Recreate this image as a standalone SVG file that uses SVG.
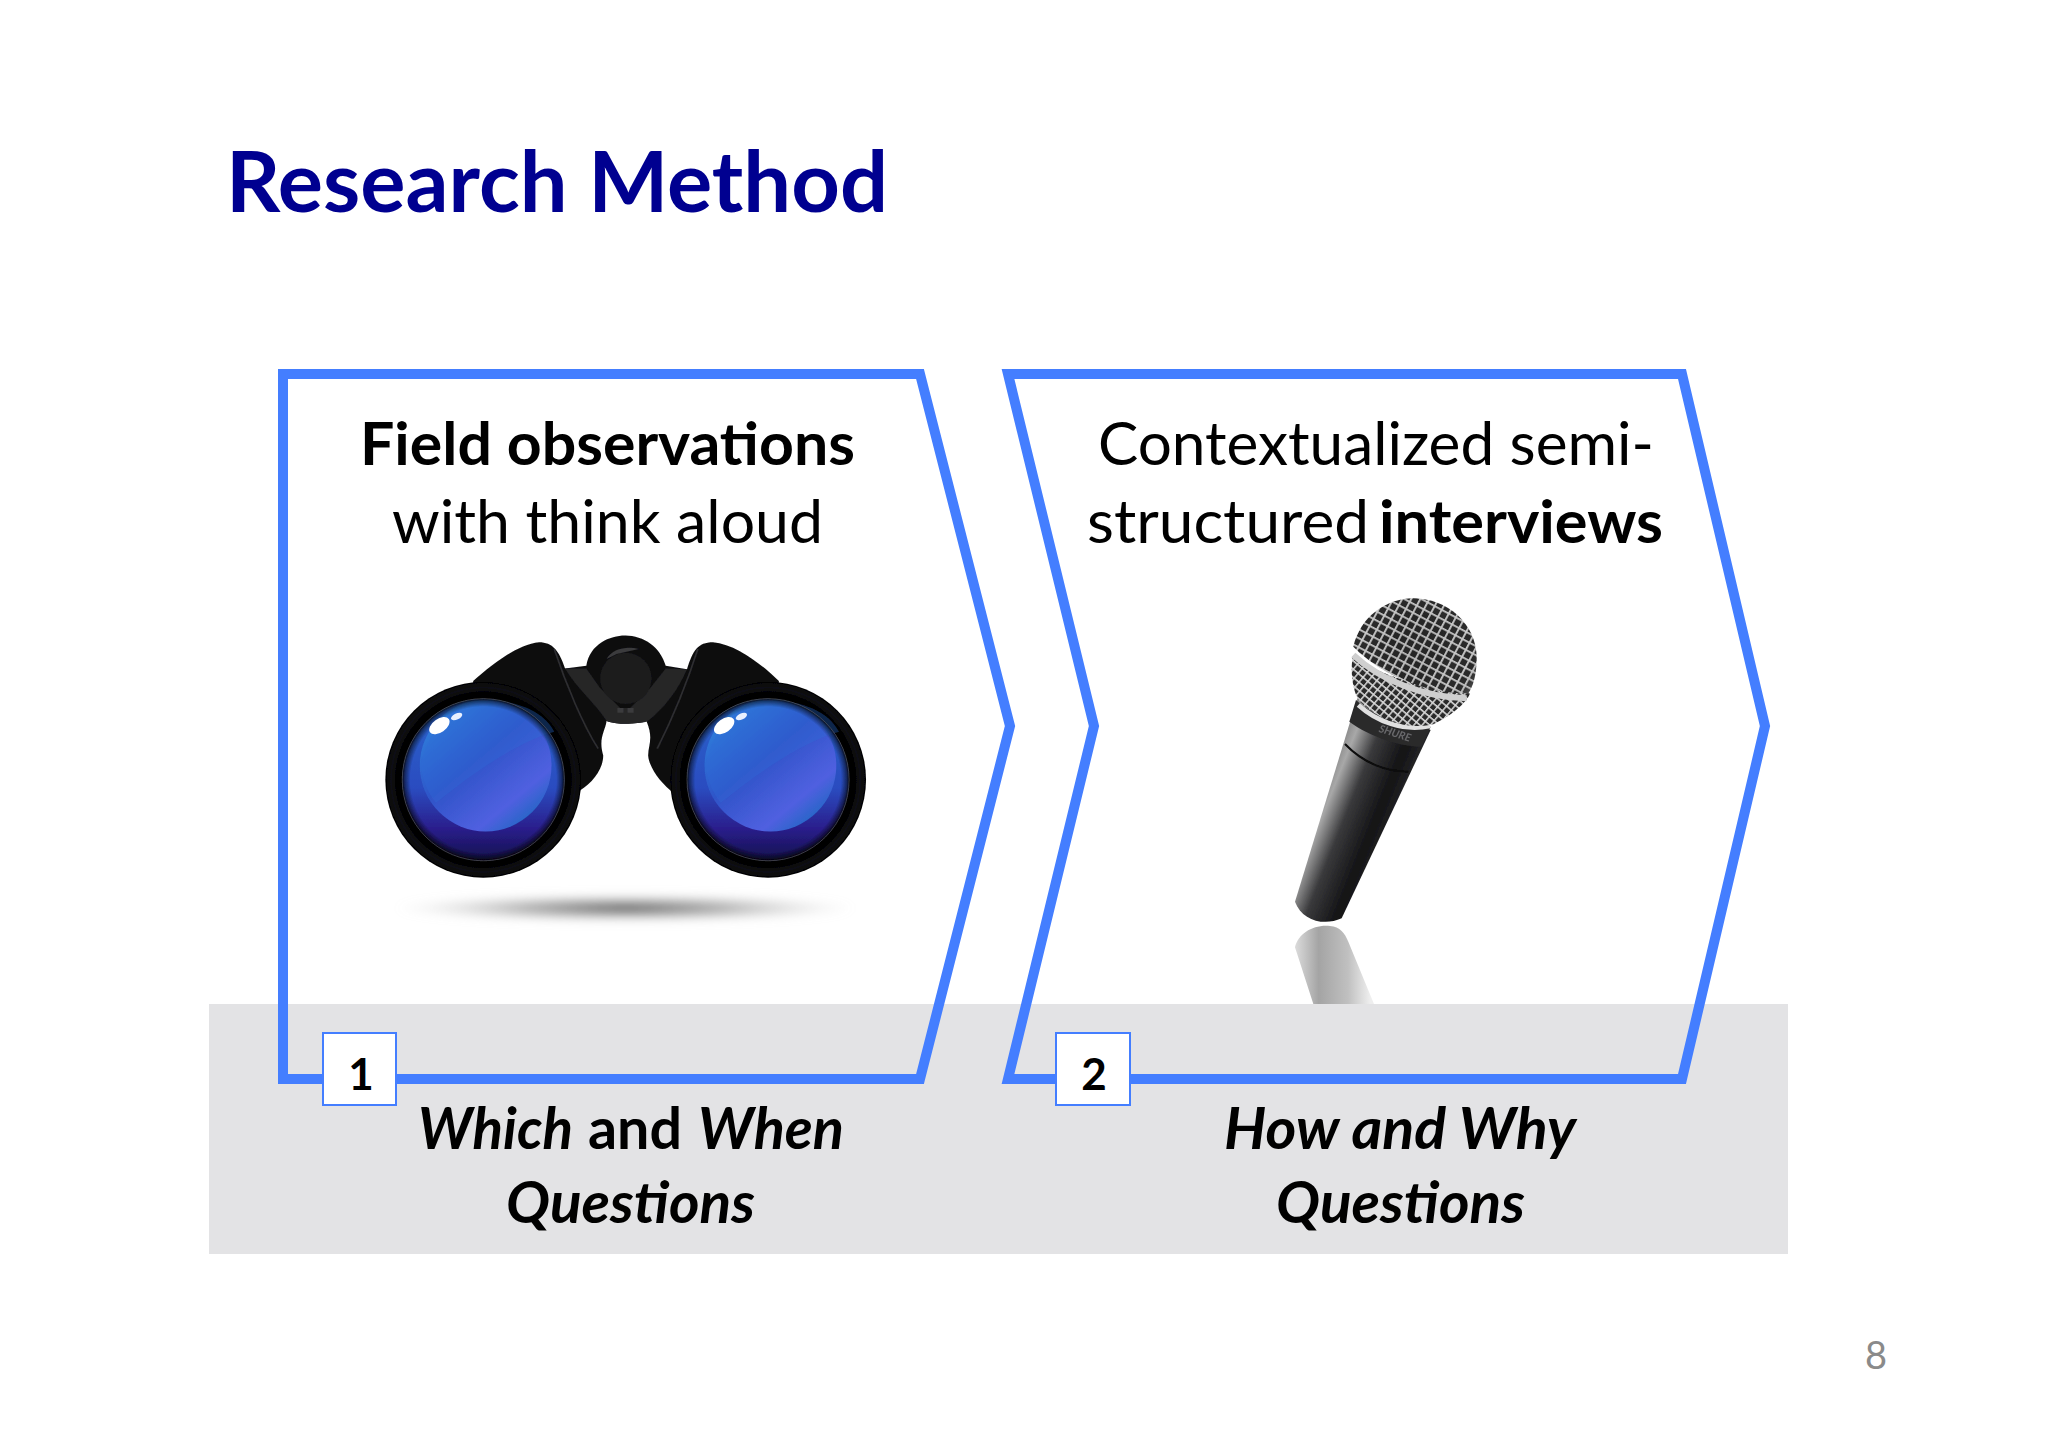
<svg xmlns="http://www.w3.org/2000/svg" width="2048" height="1447" viewBox="0 0 2048 1447">
<style>
text{font-family:"Lato","Carlito","Liberation Sans",sans-serif;fill:#000}
.b{font-weight:700}.i{font-style:italic}
.h{font-size:60px}.q{font-size:58px}
.chev{fill:none;stroke:#447eff;stroke-width:10;stroke-miterlimit:10}
.tag{fill:#fff;stroke:#447eff;stroke-width:2}
</style>
<defs>
<filter id="soft" x="-5%" y="-5%" width="110%" height="110%"><feGaussianBlur stdDeviation="1.2"/></filter>
<filter id="blur" x="-20%" y="-100%" width="140%" height="300%"><feGaussianBlur stdDeviation="14"/></filter>
<linearGradient id="glass" x1="0" y1="0" x2="0" y2="1"><stop offset="0" stop-color="#2a66cc"/><stop offset=".55" stop-color="#2a4cc0"/><stop offset=".8" stop-color="#2a1e8c"/><stop offset="1" stop-color="#14104e"/></linearGradient>
<radialGradient id="vig" cx="50%" cy="50%" r="50%"><stop offset=".9" stop-color="#000" stop-opacity="0"/><stop offset=".97" stop-color="#000" stop-opacity=".5"/><stop offset="1" stop-color="#000" stop-opacity=".9"/></radialGradient>
<linearGradient id="inner" x1=".1" y1=".05" x2=".85" y2=".95"><stop offset="0" stop-color="#2f84de"/><stop offset=".45" stop-color="#2f54c8"/><stop offset=".8" stop-color="#5060e0"/><stop offset="1" stop-color="#1b68c0"/></linearGradient>
<radialGradient id="rim" cx="50%" cy="50%" r="50%"><stop offset=".78" stop-color="#000"/><stop offset=".88" stop-color="#000"/><stop offset=".94" stop-color="#111114"/><stop offset="1" stop-color="#030303"/></radialGradient>
<radialGradient id="shadow" cx="50%" cy="50%" r="50%"><stop offset="0" stop-color="#555" stop-opacity=".95"/><stop offset=".45" stop-color="#888" stop-opacity=".65"/><stop offset="1" stop-color="#ccc" stop-opacity="0"/></radialGradient>
<linearGradient id="handle" gradientUnits="userSpaceOnUse" x1="140" y1="590" x2="390" y2="690"><stop offset="0" stop-color="#777"/><stop offset=".18" stop-color="#a8a8a8"/><stop offset=".42" stop-color="#3a3a3c"/><stop offset=".75" stop-color="#131315"/><stop offset="1" stop-color="#2a2a2c"/></linearGradient>
<linearGradient id="refl" gradientUnits="userSpaceOnUse" x1="80" y1="1130" x2="300" y2="1130"><stop offset="0" stop-color="#d8d8d8"/><stop offset=".3" stop-color="#a4a4a4"/><stop offset=".7" stop-color="#c0c0c0"/><stop offset="1" stop-color="#eee"/></linearGradient>
<pattern id="mesh" patternUnits="userSpaceOnUse" width="24" height="24" patternTransform="rotate(28)"><rect width="24" height="24" fill="#2a2a2a"/><path d="M0 0H24M0 0V24" stroke="#cdcdcd" stroke-width="11" fill="none"/></pattern>
<pattern id="meshFine" patternUnits="userSpaceOnUse" width="19" height="19" patternTransform="rotate(40)"><rect width="19" height="19" fill="#2a2a2a"/><path d="M0 0H19M0 0V19" stroke="#d8d8d8" stroke-width="9" fill="none"/></pattern>
<radialGradient id="headShade" gradientUnits="userSpaceOnUse" cx="430" cy="170" r="230"><stop offset="0" stop-color="#000" stop-opacity=".1"/><stop offset=".75" stop-color="#000" stop-opacity="0"/><stop offset="1" stop-color="#fff" stop-opacity=".3"/></radialGradient>
<g id="lens">
<circle cx="365" cy="532" r="290" fill="url(#rim)"/>
<circle cx="365" cy="532" r="240" fill="url(#glass)"/>
<circle cx="372" cy="490" r="195" fill="url(#inner)" filter="url(#soft)"/>
<path d="M225 600 C350 500 470 420 575 390 C545 330 470 300 370 295 C280 300 200 380 180 490 C185 530 200 570 225 600Z" fill="#2f6ad8" opacity=".35"/>
<circle cx="365" cy="532" r="240" fill="url(#vig)"/>
<circle cx="365" cy="532" r="240" fill="none" stroke="#55565e" stroke-width="2"/>
<ellipse cx="235" cy="372" rx="34" ry="20" transform="rotate(-35 235 372)" fill="#fff"/>
<ellipse cx="286" cy="345" rx="18" ry="9" transform="rotate(-25 286 345)" fill="#e8f0ff"/>
</g>
</defs>
<rect width="2048" height="1447" fill="#fff"/>
<rect id="band" x="209" y="1004" width="1579" height="250" fill="#e3e3e5"/>

<g id="title"><text class="b" x="226" y="212" font-size="84" style="fill:#000090" textLength="662" lengthAdjust="spacingAndGlyphs">Research Method</text></g>

<g id="binoculars" transform="translate(360 600) scale(.3378)">
<ellipse cx="785" cy="912" rx="680" ry="42" fill="url(#shadow)" filter="url(#blur)"/>
<g filter="url(#soft)">
<path d="M335 240 C390 190 470 130 530 125 C570 125 590 150 607 203 L670 195 C680 130 740 105 785 105 C840 105 890 140 905 195 L968 205 C985 150 1000 125 1045 125 C1110 130 1190 190 1240 240 L1240 400 L920 565 C880 530 855 490 853 460 C853 430 870 410 848 358 C820 368 760 370 730 358 C725 390 705 410 720 460 C720 500 690 540 650 565 L335 400Z" fill="#0e0e10"/>
<path d="M607 203 L670 203 L710 260 L770 320 L800 320 L860 260 L905 203 L968 205 C940 270 900 320 850 360 C820 368 760 370 730 358 C700 310 640 260 607 203Z" fill="#252527"/>
<circle cx="787" cy="232" r="76" fill="#1b1b1d"/>
<path d="M762 320 h18 v14 h-18Z M792 320 h18 v14 h-18Z" fill="#3a3a3c"/>
<path d="M730 175 C745 145 790 135 825 145 L760 160Z" fill="#3a3a3c"/>
<path d="M575 145 C610 250 660 370 705 440" fill="none" stroke="#2e2e30" stroke-width="5"/>
<path d="M1000 145 C970 240 930 340 880 440" fill="none" stroke="#2e2e30" stroke-width="5"/>
<use href="#lens"/>
<use href="#lens" x="843"/>
</g>
</g>

<g id="microphone" transform="translate(1270 590) scale(.3333)">
<path d="M75 1072 C85 1030 130 1003 180 1008 C210 1010 225 1030 235 1055 L312 1242 L130 1242Z" fill="url(#refl)" filter="url(#soft)"/>
<g filter="url(#soft)">
<path d="M262 325 L482 420 L215 985 C160 1010 95 990 75 935Z" fill="url(#handle)"/>
<path d="M225 462 C280 520 350 545 415 545" fill="none" stroke="#0a0a0a" stroke-width="6"/>
<path d="M258 330 C300 370 400 420 482 410 L455 470 C390 470 300 440 238 395Z" fill="#2a2a2c"/>
<path d="M265 345 C320 395 400 425 480 408" fill="none" stroke="#e0e0e0" stroke-width="14"/>
<path d="M248 200 C240 250 250 310 270 335 C330 395 420 420 490 403 C540 380 590 340 600 310 C480 300 340 260 248 200Z" fill="url(#meshFine)"/>
<path d="M250 170 C270 80 350 25 430 25 C530 25 620 100 620 205 C620 250 610 290 595 310 C470 310 340 260 250 170Z" fill="url(#mesh)"/>
<path d="M250 170 C270 80 350 25 430 25 C530 25 620 100 620 205 C620 250 610 290 595 310 C470 310 340 260 250 170Z" fill="url(#headShade)"/>
<path d="M250 195 C330 270 460 322 590 325" fill="none" stroke="#cfcfcf" stroke-width="18"/>
<text x="325" y="425" transform="rotate(18 325 425)" font-size="32" class="b i" style="fill:#6a6a6c">SHURE</text>
</g>
</g>

<g id="step1">
<path class="chev" d="M283 374 H920 L1010 726 L920 1079 H283Z"/>
<text class="h b" x="360" y="465" textLength="495" lengthAdjust="spacingAndGlyphs">Field observations</text>
<text class="h" x="392" y="543" textLength="431" lengthAdjust="spacingAndGlyphs">with think aloud</text>
<rect class="tag" x="323" y="1033" width="73" height="72"/>
<text class="b" x="361" y="1090" font-size="44" text-anchor="middle">1</text>
<text class="q b i" x="418" y="1149" textLength="155" lengthAdjust="spacingAndGlyphs">Which</text>
<text class="q b" x="588" y="1149" textLength="94" lengthAdjust="spacingAndGlyphs">and</text>
<text class="q b i" x="698" y="1149" textLength="146" lengthAdjust="spacingAndGlyphs">When</text>
<text class="q b i" x="506" y="1223" textLength="249" lengthAdjust="spacingAndGlyphs">Questions</text>
</g>

<g id="step2">
<path class="chev" d="M1008 374 H1682 L1765 726 L1682 1079 H1008 L1094 726Z"/>
<text class="h" x="1098" y="465" textLength="556" lengthAdjust="spacingAndGlyphs">Contextualized semi-</text>
<text class="h" x="1087" y="543" textLength="282" lengthAdjust="spacingAndGlyphs">structured</text>
<text class="h b" x="1379" y="543" textLength="284" lengthAdjust="spacingAndGlyphs">interviews</text>
<rect class="tag" x="1056" y="1033" width="74" height="72"/>
<text class="b" x="1094" y="1090" font-size="44" text-anchor="middle">2</text>
<text class="q b i" x="1224" y="1149" textLength="352" lengthAdjust="spacingAndGlyphs">How and Why</text>
<text class="q b i" x="1276" y="1223" textLength="249" lengthAdjust="spacingAndGlyphs">Questions</text>
</g>

<g id="page"><text x="1876" y="1369" font-size="38" text-anchor="middle" style="fill:#8a8a8a">8</text></g>
</svg>
